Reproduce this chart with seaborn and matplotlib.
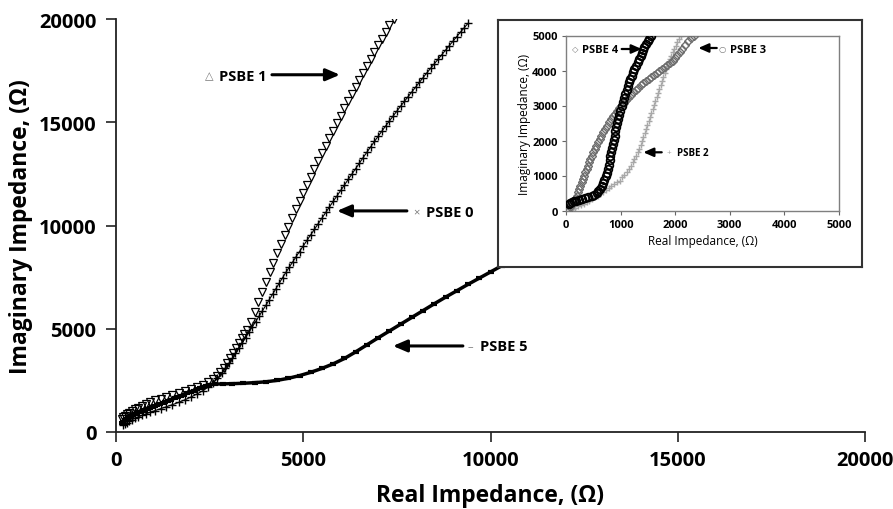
import matplotlib
matplotlib.use("Agg")
import matplotlib.pyplot as plt
import seaborn as sns

# ---------------- data ----------------
# Main chart
psbe1_x = [170, 200, 240, 290, 350, 420, 500, 590, 690, 800, 920, 1050, 1190, 1340, 1500,
           1670, 1840, 2010, 2170, 2320, 2460, 2580, 2690, 2790, 2880, 2960, 3040, 3120, 3200,
           3280, 3360, 3430, 3500, 3600, 3700, 3800, 3900, 4000, 4100, 4200, 4300, 4400, 4500,
           4600, 4700, 4800, 4900, 5000, 5100, 5200, 5300, 5400, 5500, 5600, 5700, 5800, 5900,
           6000, 6100, 6200, 6300, 6400, 6500, 6600, 6700, 6800, 6900, 7000, 7100, 7200, 7300, 7420]
psbe1_y = [650, 710, 780, 860, 940, 1020, 1100, 1180, 1260, 1350, 1440, 1530, 1620, 1710, 1800,
           1890, 1980, 2080, 2180, 2280, 2400, 2550, 2720, 2900, 3110, 3330, 3570, 3820, 4070,
           4320, 4560, 4750, 4950, 5350, 5800, 6300, 6800, 7280, 7750, 8200, 8650, 9100, 9530,
           9950, 10370, 10780, 11180, 11580, 11970, 12360, 12740, 13120, 13500, 13870, 14240,
           14600, 14960, 15320, 15670, 16020, 16370, 16720, 17060, 17400, 17740, 18070, 18400,
           18730, 19050, 19370, 19690, 20000]

psbe0_x = [200, 240, 290, 350, 420, 500, 590, 690, 800, 920, 1050, 1190, 1340, 1500, 1670,
           1840, 2010, 2170, 2320, 2460, 2590, 2710, 2820, 2920, 3010, 3100, 3190, 3280, 3370,
           3460, 3550, 3640, 3730, 3820, 3910, 4000, 4090, 4180, 4270, 4360, 4450, 4540, 4630,
           4720, 4810, 4900, 5000, 5100, 5200, 5300, 5400, 5500, 5600, 5700, 5800, 5900, 6000,
           6100, 6200, 6300, 6400, 6500, 6600, 6700, 6800, 6900, 7000, 7100, 7200, 7300, 7400,
           7500, 7600, 7700, 7800, 7900, 8000, 8100, 8200, 8300, 8400, 8500, 8600, 8700, 8800,
           8900, 9000, 9100, 9200, 9300, 9400]
psbe0_y = [330, 390, 450, 520, 590, 660, 730, 800, 880, 960, 1040, 1130, 1220, 1320, 1430,
           1560, 1700, 1850, 2000, 2170, 2370, 2600, 2840, 3080, 3320, 3560, 3810, 4060, 4310,
           4570, 4830, 5090, 5350, 5610, 5870, 6130, 6400, 6670, 6940, 7210, 7480, 7740, 7990,
           8240, 8490, 8740, 9010, 9280, 9550, 9820, 10090, 10360, 10630, 10900, 11170, 11430,
           11700, 11960, 12230, 12490, 12760, 13020, 13290, 13550, 13810, 14070, 14320, 14570,
           14820, 15060, 15300, 15540, 15780, 16010, 16240, 16470, 16700, 16930, 17160, 17390,
           17610, 17830, 18050, 18270, 18490, 18710, 18930, 19150, 19370, 19580, 19790]

psbe5_x = [150, 190, 230, 270, 310, 350, 400, 450, 500, 550, 600, 660, 720, 780, 840, 900,
           965, 1030, 1100, 1170, 1245, 1320, 1400, 1480, 1565, 1650, 1735, 1820, 1905, 1990,
           2075, 2160, 2240, 2320, 2400, 2480, 2650, 2850, 3100, 3400, 3700, 4000, 4300, 4600,
           4900, 5200, 5500, 5800, 6100, 6400, 6700, 7000, 7300, 7600, 7900, 8200, 8500, 8800,
           9100, 9400, 9700, 10000, 10300, 10700, 11200]
psbe5_y = [420, 505, 575, 630, 677, 720, 770, 815, 858, 903, 945, 992, 1035, 1080, 1125, 1170,
           1215, 1260, 1310, 1360, 1410, 1460, 1515, 1570, 1630, 1690, 1750, 1810, 1875, 1940,
           2005, 2070, 2135, 2200, 2250, 2290, 2320, 2330, 2340, 2360, 2390, 2430, 2500, 2600,
           2730, 2890, 3080, 3300, 3560, 3880, 4220, 4560, 4890, 5220, 5550, 5880, 6210, 6530,
           6840, 7150, 7450, 7750, 8050, 8450, 8950]

# Inset
psbe4_x = [60, 80, 105, 140, 180, 230, 290, 350, 410, 470, 520, 560, 595, 625, 655, 680, 705,
           727, 748, 770, 785, 800, 815, 830, 845, 860, 876, 891, 906, 921, 936, 951, 974, 997,
           1020, 1042, 1065, 1088, 1110, 1133, 1156, 1178, 1201, 1224, 1254, 1284, 1315, 1345,
           1368, 1390, 1413, 1436, 1466, 1497, 1527, 1557]
psbe4_y = [180, 210, 240, 265, 285, 300, 320, 345, 375, 410, 450, 500, 555, 620, 700, 790, 880,
           980, 1085, 1190, 1310, 1430, 1550, 1666, 1783, 1900, 2021, 2142, 2261, 2380, 2499,
           2618, 2737, 2856, 2975, 3094, 3213, 3332, 3451, 3570, 3665, 3760, 3855, 3951, 4045,
           4140, 4236, 4332, 4416, 4500, 4583, 4665, 4748, 4830, 4914, 4998]

psbe3_x = [40, 70, 100, 130, 160, 194, 215, 237, 260, 285, 308, 331, 354, 376, 400, 424, 448,
           473, 497, 527, 557, 588, 618, 648, 684, 721, 757, 794, 830, 866, 903, 939, 976, 1012,
           1054, 1097, 1139, 1182, 1224, 1273, 1321, 1370, 1418, 1467, 1515, 1564, 1612, 1661,
           1709, 1757, 1806, 1854, 1903, 1951, 1997, 2042, 2088, 2133, 2186, 2239, 2292, 2345]
psbe3_y = [0, 90, 180, 260, 340, 428, 520, 615, 710, 809, 905, 1000, 1095, 1190, 1285, 1380,
           1475, 1570, 1666, 1761, 1856, 1952, 2047, 2142, 2237, 2332, 2428, 2523, 2618, 2694,
           2770, 2847, 2923, 2999, 3075, 3151, 3228, 3304, 3380, 3447, 3513, 3580, 3646, 3713,
           3770, 3827, 3885, 3942, 3999, 4056, 4113, 4170, 4227, 4284, 4367, 4450, 4534, 4617,
           4724, 4832, 4939, 5000]

psbe2_x = [73, 120, 170, 220, 270, 323, 376, 426, 477, 528, 578, 629, 679, 729, 780, 830, 881,
           931, 982, 1025, 1067, 1110, 1152, 1194, 1224, 1254, 1285, 1315, 1345, 1369, 1394, 1418,
           1443, 1467, 1491, 1515, 1540, 1564, 1588, 1612, 1636, 1661, 1685, 1709, 1733, 1757,
           1782, 1806, 1830, 1854, 1879, 1903, 1927, 1951, 1981, 2012, 2042, 2073, 2103]
psbe2_y = [0, 40, 80, 120, 160, 200, 238, 285, 333, 381, 428, 476, 524, 579, 635, 690, 746,
           801, 857, 943, 1028, 1114, 1199, 1285, 1380, 1476, 1571, 1666, 1761, 1875, 1990, 2104,
           2218, 2332, 2446, 2561, 2675, 2790, 2904, 3018, 3132, 3247, 3361, 3475, 3589, 3703,
           3818, 3932, 4046, 4141, 4236, 4332, 4427, 4522, 4617, 4713, 4808, 4903, 4998]

main_ticks = [0, 5000, 10000, 15000, 20000]
inset_ticks = [0, 1000, 2000, 3000, 4000, 5000]

# ---------------- figure ----------------
sns.set_theme(style="white")
plt.rcParams['font.family'] = ['Open Sans', 'DejaVu Sans']
plt.rcParams['text.color'] = 'black'
plt.rcParams['axes.labelcolor'] = 'black'
plt.rcParams['xtick.color'] = 'black'
plt.rcParams['ytick.color'] = 'black'

W, H = 893, 510
fig = plt.figure(figsize=(W / 100, H / 100), dpi=100)

def fx(px):
    return px / W

def fy(py):
    return 1 - py / H

ax = fig.add_axes([fx(116), fy(433), fx(865) - fx(116), fy(20) - fy(433)])
ax.set_facecolor('white')

sns.lineplot(x=psbe0_x, y=psbe0_y, ax=ax, sort=False, estimator=None, color='black',
             lw=0.8, marker='+', markersize=5.5, markeredgewidth=1.0,
             markeredgecolor='black', zorder=2)
sns.lineplot(x=psbe1_x, y=psbe1_y, ax=ax, sort=False, estimator=None, color='black',
             linestyle='none', marker='v', markersize=6, markerfacecolor='none',
             markeredgecolor='black', markeredgewidth=0.9, zorder=3)
sns.lineplot(x=psbe5_x, y=psbe5_y, ax=ax, sort=False, estimator=None, color='black',
             lw=2.5, marker='_', markersize=5, markeredgewidth=3.0,
             markeredgecolor='black', zorder=4)

ax.set_xlim(0, 20000)
ax.set_ylim(0, 20000)
ax.set_xticks(main_ticks)
ax.set_yticks(main_ticks)
ax.set_xticklabels([str(t) for t in main_ticks], fontsize=14.5, fontweight='bold')
ax.set_yticklabels([str(t) for t in main_ticks], fontsize=14.5, fontweight='bold')
ax.tick_params(axis='x', direction='out', length=7, width=1.2, color='#222222',
               bottom=True, pad=6)
ax.tick_params(axis='y', direction='out', length=7, width=1.2, color='#222222',
               left=True, pad=7)
for s in ['top', 'right']:
    ax.spines[s].set_visible(False)
for s in ['left', 'bottom']:
    ax.spines[s].set_color('#222222')
    ax.spines[s].set_linewidth(1.3)
ax.set_xlabel('Real Impedance, (Ω)', fontsize=16.5, fontweight='bold', labelpad=9)
ax.set_ylabel('Imaginary Impedance, (Ω)', fontsize=16.5, fontweight='bold', labelpad=4)

arrow_kw = dict(arrowstyle='-|>,head_length=0.7,head_width=0.3', color='black', lw=2.2,
                shrinkA=0, shrinkB=0)
# PSBE 1
ax.annotate('', xy=(5980, 17300), xytext=(4164, 17300), arrowprops=arrow_kw)
ax.text(2483, 17250, '△', fontsize=8, color='#777777', ha='center', va='center')
ax.text(2750, 17250, 'PSBE 1', fontsize=10.5, fontweight='bold', ha='left', va='center')
# PSBE 0
ax.annotate('', xy=(5900, 10707), xytext=(7768, 10707), arrowprops=arrow_kw)
ax.text(8035, 10660, '×', fontsize=8, color='#777777', ha='center', va='center')
ax.text(8268, 10660, 'PSBE 0', fontsize=10.5, fontweight='bold', ha='left', va='center')
# PSBE 5
ax.annotate('', xy=(7394, 4167), xytext=(9263, 4167), arrowprops=arrow_kw)
ax.text(9470, 4150, '–', fontsize=8, color='#777777', ha='center', va='center')
ax.text(9717, 4150, 'PSBE 5', fontsize=10.5, fontweight='bold', ha='left', va='center')

# ---------------- inset frame ----------------
fr = fig.add_axes([fx(498), fy(268), fx(862) - fx(498), fy(21) - fy(268)])
fr.set_zorder(5)
fr.set_facecolor('white')
fr.set_xticks([])
fr.set_yticks([])
for s in fr.spines.values():
    s.set_color('#333333')
    s.set_linewidth(1.5)

ins = fig.add_axes([fx(566), fy(211.5), fx(839) - fx(566), fy(36.5) - fy(211.5)])
ins.set_zorder(6)
ins.set_facecolor('white')

sns.lineplot(x=psbe2_x, y=psbe2_y, ax=ins, sort=False, estimator=None, linestyle='none',
             marker='+', markersize=5, markeredgewidth=1.0, markeredgecolor='#a8a8a8',
             color='#a8a8a8', zorder=2)
sns.lineplot(x=psbe3_x, y=psbe3_y, ax=ins, sort=False, estimator=None, linestyle='none',
             marker='D', markersize=4.5, markerfacecolor='none', markeredgecolor='#6e6e6e',
             markeredgewidth=1.0, color='#6e6e6e', zorder=3)
sns.lineplot(x=psbe4_x, y=psbe4_y, ax=ins, sort=False, estimator=None, linestyle='none',
             marker='o', markersize=5.5, markerfacecolor='none', markeredgecolor='black',
             markeredgewidth=1.3, color='black', zorder=4)

ins.set_xlim(0, 5000)
ins.set_ylim(0, 5000)
ins.set_xticks(inset_ticks)
ins.set_yticks(inset_ticks)
ins.set_xticklabels([str(t) for t in inset_ticks], fontsize=8, fontweight='bold')
ins.set_yticklabels([str(t) for t in inset_ticks], fontsize=8, fontweight='bold')
ins.tick_params(axis='both', direction='out', length=3, width=0.8, color='#666666',
                bottom=True, left=True, pad=3)
for s in ins.spines.values():
    s.set_color('#7f7f7f')
    s.set_linewidth(1.0)
ins.set_xlabel('Real Impedance, (Ω)', fontsize=8.5, labelpad=3)
ins.set_ylabel('Imaginary Impedance, (Ω)', fontsize=8.5, labelpad=1)

iarrow = dict(arrowstyle='-|>,head_length=0.5,head_width=0.22', color='black', lw=1.6,
              shrinkA=0, shrinkB=0)
ins.annotate('', xy=(1387, 4614), xytext=(1020, 4614), arrowprops=iarrow)
ins.text(165, 4586, '◇', fontsize=6, color='#777777', ha='center', va='center')
ins.text(293, 4586, 'PSBE 4', fontsize=8, fontweight='bold', ha='left', va='center')

ins.annotate('', xy=(2424, 4643), xytext=(2761, 4643), arrowprops=iarrow)
ins.text(2863, 4600, '○', fontsize=6, color='#777777', ha='center', va='center')
ins.text(3004, 4600, 'PSBE 3', fontsize=8, fontweight='bold', ha='left', va='center')

ins.annotate('', xy=(1416, 1663), xytext=(1753, 1663), arrowprops=iarrow)
ins.text(1887, 1643, '+', fontsize=6, color='#999999', ha='center', va='center')
ins.text(2028, 1643, 'PSBE 2', fontsize=7, fontweight='bold', ha='left', va='center')

fig.savefig('out.png', dpi=100, facecolor='white')
